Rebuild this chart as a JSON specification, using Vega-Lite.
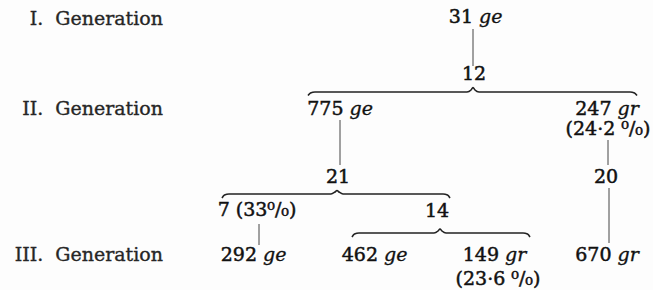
{
  "$schema": "https://vega.github.io/schema/vega-lite/v6.json",
  "width": 653,
  "height": 290,
  "autosize": {"type": "fit", "contains": "padding"},
  "padding": 0,
  "background": "#fdfdfd",
  "config": {"view": {"stroke": null}},
  "datasets": {
    "pairs": [
      {"x": 476, "y": 23, "num": "31", "sym": "ge"},
      {"x": 346.5, "y": 115, "num": "775", "sym": "ge"},
      {"x": 614.5, "y": 115, "num": "247", "sym": "gr"},
      {"x": 260, "y": 261, "num": "292", "sym": "ge"},
      {"x": 381, "y": 261, "num": "462", "sym": "ge"},
      {"x": 502, "y": 261, "num": "149", "sym": "gr"},
      {"x": 614.5, "y": 261, "num": "670", "sym": "gr"}
    ],
    "centered": [
      {"x": 474, "y": 80, "t": "12"},
      {"x": 338, "y": 183, "t": "21"},
      {"x": 606, "y": 183, "t": "20"},
      {"x": 437, "y": 217, "t": "14"},
      {"x": 608, "y": 135, "t": "(24·2 ⁰/₀)"},
      {"x": 498, "y": 285, "t": "(23·6 ⁰/₀)"},
      {"x": 257, "y": 216, "t": "7 (33⁰/₀)"}
    ],
    "labels": [
      {"x": 163, "y": 25, "t": "I.\u00a0\u00a0Generation"},
      {"x": 163, "y": 115, "t": "II.\u00a0\u00a0Generation"},
      {"x": 163, "y": 261, "t": "III.\u00a0\u00a0Generation"}
    ],
    "rules": [
      {"x": 473, "y": 29, "y2": 66},
      {"x": 340, "y": 120, "y2": 165},
      {"x": 608, "y": 140, "y2": 165},
      {"x": 259, "y": 224, "y2": 245},
      {"x": 609, "y": 188, "y2": 243}
    ],
    "braces": [
      {"b": 1, "i": 0, "x": 308, "y": 95.5},
      {"b": 1, "i": 1, "x": 310.5, "y": 93},
      {"b": 1, "i": 2, "x": 315, "y": 92},
      {"b": 1, "i": 3, "x": 467, "y": 92},
      {"b": 1, "i": 4, "x": 471, "y": 90},
      {"b": 1, "i": 5, "x": 473, "y": 87.5},
      {"b": 1, "i": 6, "x": 475, "y": 90},
      {"b": 1, "i": 7, "x": 479, "y": 92},
      {"b": 1, "i": 8, "x": 630, "y": 92},
      {"b": 1, "i": 9, "x": 634.5, "y": 93},
      {"b": 1, "i": 10, "x": 637, "y": 95.5},
      {"b": 2, "i": 0, "x": 222, "y": 198},
      {"b": 2, "i": 1, "x": 224.5, "y": 195},
      {"b": 2, "i": 2, "x": 229, "y": 194},
      {"b": 2, "i": 3, "x": 331, "y": 194},
      {"b": 2, "i": 4, "x": 335, "y": 192},
      {"b": 2, "i": 5, "x": 337, "y": 190.5},
      {"b": 2, "i": 6, "x": 339, "y": 192},
      {"b": 2, "i": 7, "x": 343, "y": 194},
      {"b": 2, "i": 8, "x": 443, "y": 194},
      {"b": 2, "i": 9, "x": 447.5, "y": 195},
      {"b": 2, "i": 10, "x": 450, "y": 198},
      {"b": 3, "i": 0, "x": 352, "y": 237},
      {"b": 3, "i": 1, "x": 354.5, "y": 234},
      {"b": 3, "i": 2, "x": 359, "y": 233},
      {"b": 3, "i": 3, "x": 434, "y": 233},
      {"b": 3, "i": 4, "x": 438, "y": 231},
      {"b": 3, "i": 5, "x": 440, "y": 229},
      {"b": 3, "i": 6, "x": 442, "y": 231},
      {"b": 3, "i": 7, "x": 446, "y": 233},
      {"b": 3, "i": 8, "x": 523, "y": 233},
      {"b": 3, "i": 9, "x": 527.5, "y": 234},
      {"b": 3, "i": 10, "x": 530, "y": 237}
    ]
  },
  "layer": [
    {
      "data": {"name": "rules"},
      "mark": {"type": "rule", "color": "#444", "strokeWidth": 1},
      "encoding": {
        "x": {"field": "x", "type": "quantitative", "scale": {"domain": [0, 653], "nice": false, "zero": false}, "axis": null},
        "y": {"field": "y", "type": "quantitative", "scale": {"domain": [0, 290], "nice": false, "zero": false, "reverse": true}, "axis": null},
        "y2": {"field": "y2"}
      }
    },
    {
      "data": {"name": "braces"},
      "mark": {"type": "line", "color": "#222", "strokeWidth": 1.6, "interpolate": "monotone"},
      "encoding": {
        "x": {"field": "x", "type": "quantitative"},
        "y": {"field": "y", "type": "quantitative"},
        "detail": {"field": "b"},
        "order": {"field": "i", "type": "quantitative"}
      }
    },
    {
      "data": {"name": "labels"},
      "mark": {"type": "text", "align": "right", "baseline": "alphabetic", "font": "DejaVu Serif", "fontSize": 19, "color": "#262626", "stroke": "#262626", "strokeWidth": 0.35},
      "encoding": {
        "x": {"field": "x", "type": "quantitative"},
        "y": {"field": "y", "type": "quantitative"},
        "text": {"field": "t"}
      }
    },
    {
      "data": {"name": "centered"},
      "mark": {"type": "text", "align": "center", "baseline": "alphabetic", "font": "DejaVu Serif", "fontSize": 19, "color": "#111", "stroke": "#111", "strokeWidth": 0.5},
      "encoding": {
        "x": {"field": "x", "type": "quantitative"},
        "y": {"field": "y", "type": "quantitative"},
        "text": {"field": "t"}
      }
    },
    {
      "data": {"name": "pairs"},
      "mark": {"type": "text", "align": "right", "baseline": "alphabetic", "dx": -3, "font": "DejaVu Serif", "fontSize": 19, "color": "#111", "stroke": "#111", "strokeWidth": 0.5},
      "encoding": {
        "x": {"field": "x", "type": "quantitative"},
        "y": {"field": "y", "type": "quantitative"},
        "text": {"field": "num"}
      }
    },
    {
      "data": {"name": "pairs"},
      "mark": {"type": "text", "align": "left", "baseline": "alphabetic", "dx": 3, "font": "DejaVu Serif", "fontSize": 19, "fontStyle": "italic", "color": "#111", "stroke": "#111", "strokeWidth": 0.35},
      "encoding": {
        "x": {"field": "x", "type": "quantitative"},
        "y": {"field": "y", "type": "quantitative"},
        "text": {"field": "sym"}
      }
    }
  ]
}
